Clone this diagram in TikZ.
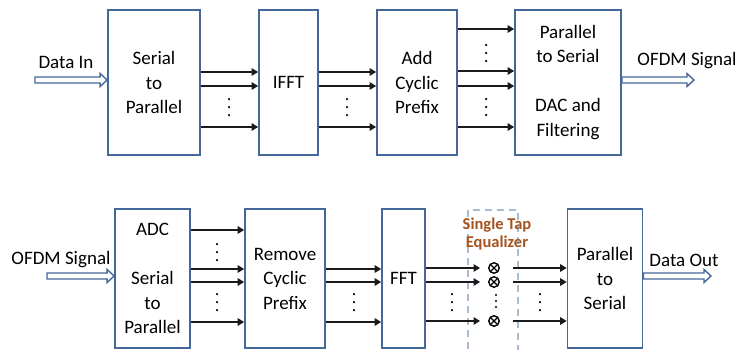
\documentclass[tikz,border=0pt]{standalone}
\usepackage{fontspec}
\setmainfont{Carlito}
\usetikzlibrary{arrows.meta,calc}
\definecolor{boxblue}{HTML}{44689A}
\definecolor{dashblue}{HTML}{A9BBD1}
\definecolor{eqbrown}{HTML}{A5531F}
\definecolor{linegray}{HTML}{1A1A1A}
\tikzset{
  block/.style={draw=boxblue, line width=1.7pt, fill=white, minimum width=#1,
    align=center, font=\fontsize{19}{24.5}\selectfont, inner sep=0pt},
  sig/.style={draw=linegray, line width=1.4pt, -{Triangle[length=6.5pt,width=7.5pt]}},
  lbl/.style={font=\fontsize{19}{22}\selectfont, inner sep=0pt},
  blockarr/.style={draw=boxblue, line width=1.4pt, fill=white, line join=miter},
  mult/.style={circle, draw=black, line width=1.4pt, minimum size=10.5pt, inner sep=0pt,
    path picture={\draw[line width=1.3pt]
      ([shift={(2.2pt,-2.2pt)}]path picture bounding box.north west) -- ([shift={(-2.2pt,2.2pt)}]path picture bounding box.south east)
      ([shift={(-2.2pt,-2.2pt)}]path picture bounding box.north east) -- ([shift={(2.2pt,2.2pt)}]path picture bounding box.south west);}},
  threedots/.pic={\foreach \d in {-8,0,8} \fill (0,\d) circle (1.25pt);},
  smalldots/.pic={\foreach \d in {-6,0,6} \fill (0,\d) circle (1.2pt);}
}
% hollow block arrow from #1 to #2 (horizontal)
\newcommand\blockarrow[2]{%
  \path[blockarr] let \p1=(#1), \p2=(#2) in
    (\x1,\y1+3pt) -- (\x2-7pt,\y1+3pt) -- (\x2-7pt,\y1+6.5pt) -- (\x2,\y1)
    -- (\x2-7pt,\y1-6.5pt) -- (\x2-7pt,\y1-3pt) -- (\x1,\y1-3pt) -- cycle;}
\begin{document}
\begin{tikzpicture}[x=1pt,y=-1pt]
\useasboundingbox[fill=white] (0,0) rectangle (739,349);

% ---------------- transmitter ----------------
\node[block=92pt, minimum height=145pt] (sp)  at (154,82.5) {Serial\\to\\Parallel};
\node[block=59pt, minimum height=145pt] (ifft) at (288.5,82.5) {IFFT};
\node[block=80pt, minimum height=145pt] (acp) at (417,82.5) {Add\\Cyclic\\Prefix};
\node[block=106pt, minimum height=145pt] (ps) at (568,82.5) {Parallel\\to Serial\\~\\DAC and\\Filtering};

\coordinate (txin) at (35,80);
\coordinate (txout) at (694,80);
\blockarrow{txin}{sp.west |- txin}
\blockarrow{ps.east |- txout}{txout}
\node[lbl] (datain) at (66,62) {Data In};
\node[lbl] (ofdmtx) at (687,61) {OFDM Signal};

\foreach \y in {72,86,127} {
  \draw[sig] (sp.east |- 0,\y) -- (ifft.west |- 0,\y);
  \draw[sig] (ifft.east |- 0,\y) -- (acp.west |- 0,\y);
}
\foreach \y in {29,71,86,127}
  \draw[sig] (acp.east |- 0,\y) -- (ps.west |- 0,\y);
\pic at (229,107) {threedots};
\pic at (347,107) {threedots};
\pic at (486,53) {threedots};
\pic at (486,107) {threedots};

% ---------------- receiver ----------------
\node[block=75pt, minimum height=138.5pt] (adc) at (152.5,278.5) {ADC\\~\\Serial\\to\\Parallel};
\node[block=80pt, minimum height=138.5pt] (rcp) at (285,278.5) {Remove\\Cyclic\\Prefix};
\node[block=43pt, minimum height=138.5pt] (fft) at (403.5,278.5) {FFT};
\node[block=75pt, minimum height=138.5pt] (pso) at (605,278.5) {Parallel\\to\\Serial};

% single tap equalizer
\draw[dashblue, line width=2pt, dash pattern=on 7pt off 5pt] (468,210) rectangle (518,352);
\node[font=\bfseries\fontsize{16.5}{18}\selectfont, text=eqbrown, align=center, inner sep=0pt]
  (eq) at (497,234) {Single Tap\\Equalizer};
\node[mult] (m1) at (494,268) {};
\node[mult] (m2) at (494,282) {};
\node[mult] (m3) at (494,321) {};
\pic at (496,301) {smalldots};

\coordinate (rxin) at (47,276);
\coordinate (rxout) at (711,276);
\blockarrow{rxin}{adc.west |- rxin}
\blockarrow{pso.east |- rxout}{rxout}
\node[lbl] (ofdmrx) at (61,260) {OFDM Signal};
\node[lbl] (dataout) at (684,260) {Data Out};

\foreach \y in {230,269,282,322}
  \draw[sig] (adc.east |- 0,\y) -- (rcp.west |- 0,\y);
\foreach \y in {269,282,322}
  \draw[sig] (rcp.east |- 0,\y) -- (fft.west |- 0,\y);
\foreach \m in {m1,m2,m3} {
  \draw[sig, shorten >=8pt] (fft.east |- \m) -- (\m.west);
  \draw[sig, shorten <=13pt] (\m.east) -- (pso.west |- \m);
}
\pic at (217,252) {threedots};
\pic at (217,302) {threedots};
\pic at (354,302) {threedots};
\pic at (452,302) {threedots};
\pic at (540,302) {threedots};
\end{tikzpicture}
\end{document}
